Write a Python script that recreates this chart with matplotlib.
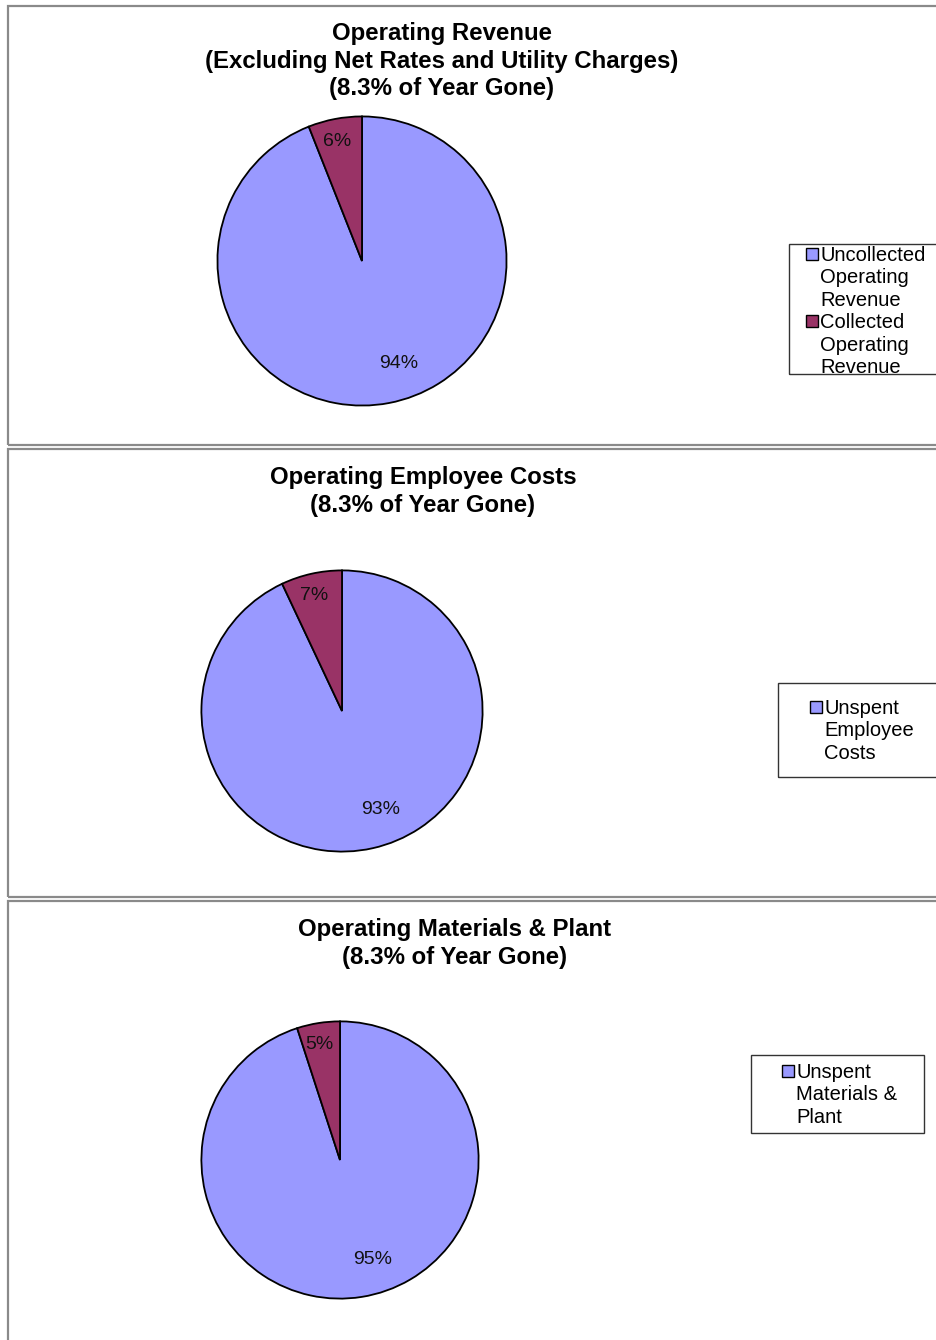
import numpy as np
import matplotlib.pyplot as plt
from matplotlib.patches import Rectangle, Patch

plt.rcParams['font.family'] = ['Liberation Sans', 'DejaVu Sans']

# data
titles = [
    'Operating Revenue\n(Excluding Net Rates and Utility Charges)\n(8.3% of Year Gone)',
    'Operating Employee Costs\n(8.3% of Year Gone)',
    'Operating Materials & Plant\n(8.3% of Year Gone)',
]
rev_values = [94, 6]
emp_values = [93, 7]
mat_values = [95, 5]
rev_labels = ['Uncollected\nOperating\nRevenue', 'Collected\nOperating\nRevenue']
emp_labels = ['Unspent\nEmployee\nCosts']
mat_labels = ['Unspent\nMaterials &\nPlant']

c_blue = '#9999FF'
c_red = '#993366'

W, H = 937, 1340
fig = plt.figure(figsize=(W / 100, H / 100), dpi=100)


def fx(x):
    return x / W


def fy(y):
    return 1 - y / H


# panel layout (pixel): box, title centre, pie centre/radius, legend box, legend anchor
panels = [
    dict(box=(8, 6, 945, 445), tx=442, ty=22, cx=362, cy=261, r=146,
         lbox=(789, 244, 945, 374), lpos=(806, 246), values=rev_values, labels=rev_labels),
    dict(box=(8, 449, 945, 897), tx=423, ty=466, cx=342, cy=711, r=142,
         lbox=(778, 683, 945, 777), lpos=(810, 699), values=emp_values, labels=emp_labels),
    dict(box=(8, 901, 945, 1345), tx=455, ty=918, cx=340, cy=1160, r=140,
         lbox=(751, 1055, 924, 1133), lpos=(782, 1063), values=mat_values, labels=mat_labels),
]

for title, p in zip(titles, panels):
    x0, y0, x1, y1 = p['box']
    fig.patches.append(Rectangle((fx(x0), fy(y1)), fx(x1) - fx(x0), fy(y0) - fy(y1),
                                 transform=fig.transFigure, fill=False,
                                 edgecolor='#8a8a8a', lw=1.6))
    fig.text(fx(p['tx']), fy(p['ty']), title, ha='center', va='top',
             fontsize=17.3, fontweight='bold', linespacing=1.26)

    r = p['r']
    ax = fig.add_axes([fx(p['cx'] - r), fy(p['cy'] + r), 2 * r / W, 2 * r / H])
    wedges, _, autotexts = ax.pie(p['values'], colors=[c_blue, c_red], startangle=90,
                                  counterclock=False, autopct='%1.0f%%',
                                  wedgeprops=dict(edgecolor='black', linewidth=1.3),
                                  textprops=dict(fontsize=14, color='#111111'))
    # excel style label placement
    for w, t, d, shift in zip(wedges, autotexts, [0.755, 0.845], [9, 1]):
        ang = np.deg2rad((w.theta1 + w.theta2) / 2 + shift)
        t.set_position((d * np.cos(ang), d * np.sin(ang)))
    ax.set_xlim(-1.01, 1.01)
    ax.set_ylim(-1.01, 1.01)
    ax.axis('off')

    lx0, ly0, lx1, ly1 = p['lbox']
    fig.patches.append(Rectangle((fx(lx0), fy(ly1)), fx(lx1) - fx(lx0), fy(ly0) - fy(ly1),
                                 transform=fig.transFigure, fill=False,
                                 edgecolor='#333333', lw=1.0))
    # one legend row per text line, swatch only on the first line of each entry
    handles, texts = [], []
    for c, lab in zip([c_blue, c_red], p['labels']):
        for i, line in enumerate(lab.split('\n')):
            if i == 0:
                handles.append(Patch(facecolor=c, edgecolor='black', lw=1.0))
            else:
                handles.append(Patch(facecolor='none', edgecolor='none'))
            texts.append(line)
    fig.legend(handles, texts, loc='upper left',
               bbox_to_anchor=(fx(p['lpos'][0]), fy(p['lpos'][1])),
               frameon=False, fontsize=14.5, borderpad=0, borderaxespad=0,
               handlelength=0.58, handleheight=0.58, handletextpad=0.12,
               labelspacing=0.17)

fig.savefig('out.png', dpi=100)
